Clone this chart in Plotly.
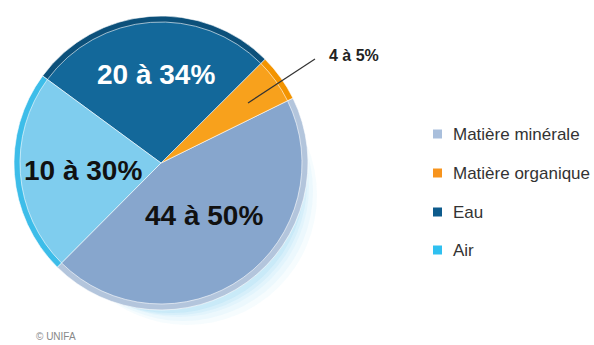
import plotly.graph_objects as go

W, H = 594, 345

# ---- data ----
labels = ["Matière minérale", "Matière organique", "Eau", "Air"]
values = [44.7, 5.2, 27.4, 22.6]
slice_text = ["44 à 50%", "4 à 5%", "20 à 34%", "10 à 30%"]
colors = ["#87a6cd", "#f8a11c", "#13689a", "#7fcdee"]
rim_colors = ["#b3c5dc", "#f39400", "#0c507a", "#3dbde9"]
legend_colors = ["#a9bfdc", "#f7941d", "#0d5b8c", "#2fc0f0"]
text_colors = ["#111111", "#222222", "#ffffff", "#111111"]
credit = "© UNIFA"

# ---- geometry (pixels) ----
cx, cy, r = 161, 163, 147


def px(x):
    return x / W


def py(y):
    return 1 - y / H


dom = dict(x=[px(cx - r), px(cx + r)], y=[py(cy + r), py(cy - r)])

fig = go.Figure()

# soft glow behind the pie (bottom right only)
glow = []
for (ox, oy, rr, a) in [(26, 32, 130, 0.06), (22, 28, 130, 0.07), (18, 24, 130, 0.08),
                        (14, 20, 132, 0.10), (10, 16, 134, 0.12)]:
    glow.append(dict(type="circle", xref="paper", yref="paper", layer="below",
                     x0=px(cx + ox - rr), x1=px(cx + ox + rr),
                     y0=py(cy + oy + rr), y1=py(cy + oy - rr),
                     fillcolor=f"rgba(110,200,238,{a})", line=dict(width=0)))

# rim (outer ring)
fig.add_trace(go.Pie(
    labels=labels, values=values, sort=False, direction="counterclockwise",
    rotation=63.8, domain=dom, textinfo="none", hoverinfo="skip",
    marker=dict(colors=rim_colors, line=dict(color="rgba(255,255,255,0.6)", width=1)),
    showlegend=False,
))
# main body
r_in = r - 6
dom_in = dict(x=[px(cx - r_in), px(cx + r_in)], y=[py(cy + r_in), py(cy - r_in)])
fig.add_trace(go.Pie(
    labels=labels, values=values, sort=False, direction="counterclockwise",
    rotation=63.8, domain=dom_in, textinfo="none",
    marker=dict(colors=colors, line=dict(color="rgba(255,255,255,0.6)", width=1)),
    showlegend=False,
))

FONT = "Liberation Sans, Arial, sans-serif"
annotations = []
# in-slice labels
label_pos = {0: (204, 215), 2: (156, 75), 3: (83, 170)}
for i, (lx, ly) in label_pos.items():
    annotations.append(dict(x=px(lx), y=py(ly), xref="paper", yref="paper",
                            text="<b>" + slice_text[i] + "</b>", showarrow=False,
                            font=dict(family=FONT, size=28, color=text_colors[i]),
                            xanchor="center", yanchor="middle"))
# organic label with leader line
annotations.append(dict(x=px(354), y=py(56), xref="paper", yref="paper",
                        text="<b>" + slice_text[1] + "</b>", showarrow=False,
                        font=dict(family=FONT, size=16, color="#222222"),
                        xanchor="center", yanchor="middle"))
shapes = glow + [dict(type="line", xref="paper", yref="paper",
                      x0=px(248), y0=py(103), x1=px(315), y1=py(59),
                      line=dict(color="#333333", width=1.2))]

# manual legend
leg_y = [134, 173, 212, 250]
for lab, col, yy in zip(labels, legend_colors, leg_y):
    shapes.append(dict(type="rect", xref="paper", yref="paper",
                       x0=px(433), x1=px(442), y0=py(yy + 4.5), y1=py(yy - 4.5),
                       fillcolor=col, line=dict(width=0)))
    annotations.append(dict(x=px(451), y=py(yy), xref="paper", yref="paper",
                            text=lab, showarrow=False, xanchor="left", yanchor="middle",
                            font=dict(family=FONT, size=17, color="#333333")))

annotations.append(dict(x=px(34), y=py(336), xref="paper", yref="paper",
                        text=credit, showarrow=False, xanchor="left", yanchor="middle",
                        font=dict(family=FONT, size=10, color="#888888")))

fig.update_layout(
    width=W, height=H, margin=dict(l=0, r=0, t=0, b=0),
    paper_bgcolor="white", plot_bgcolor="white",
    showlegend=False, annotations=annotations, shapes=shapes,
)

fig.write_html("out.html")
